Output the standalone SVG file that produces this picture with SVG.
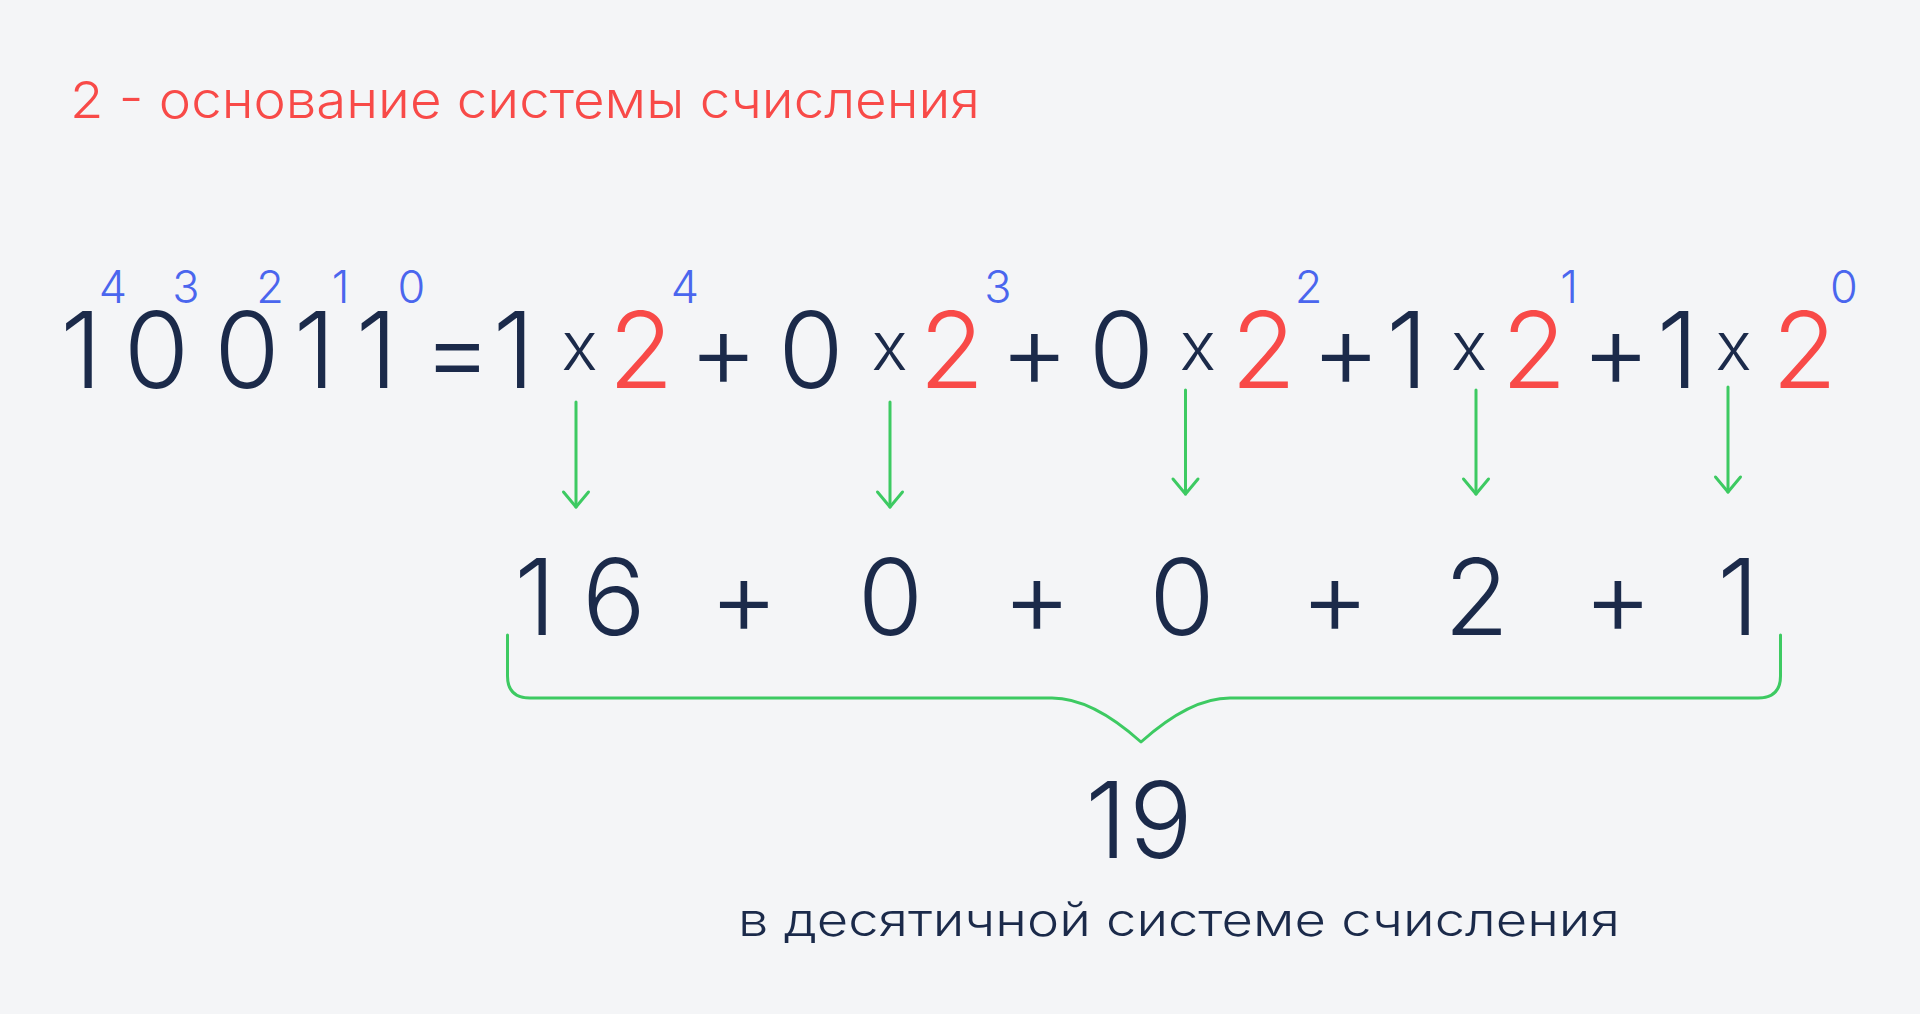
<svg xmlns="http://www.w3.org/2000/svg" width="1920" height="1014" viewBox="0 0 1920 1014">
<defs>
<style>
text{font-family:Inter,"Liberation Sans","DejaVu Sans",sans-serif;font-weight:300}
.n{fill:#1b2a4a}
.r{fill:#f84a48}
.b{fill:#4a66ee}
.big{font-size:106px;text-anchor:middle}
.op{font-size:106px;text-anchor:middle}
.x{font-size:68px;text-anchor:middle}
.sup{font-size:45px;text-anchor:middle}
.g{fill:none;stroke:#3dca62;stroke-width:3;stroke-linecap:round;stroke-linejoin:round}
</style>
<marker id="ah" markerUnits="userSpaceOnUse" markerWidth="40" markerHeight="40" refX="0" refY="0" viewBox="-20 -20 40 40" orient="auto" overflow="visible">
<path d="M-15,-12.5 L0,0 L-15,12.5" fill="none" stroke="#3dca62" stroke-width="3" stroke-linecap="round" stroke-linejoin="round"/>
</marker>
</defs>
<rect width="1920" height="1014" fill="#f4f5f7"/>

<g id="title">
<text class="r" x="70" y="118" font-size="51" textLength="910" lengthAdjust="spacingAndGlyphs">2 - основание системы счисления</text>
</g>

<g id="binary">
<text class="n big" y="388"><tspan x="81">1</tspan><tspan x="156.5">0</tspan><tspan x="247">0</tspan><tspan x="314.5">1</tspan><tspan x="376.5">1</tspan></text>
<text class="b sup" y="303"><tspan x="113">4</tspan><tspan x="186">3</tspan><tspan x="270">2</tspan><tspan x="340.5">1</tspan><tspan x="411.5">0</tspan></text>
<text class="n op" x="457.5" y="388">=</text>
</g>

<g id="term4">
<text class="n big" x="513.5" y="388">1</text>
<text class="n x" x="579.5" y="370">x</text>
<text class="r big" x="641" y="388">2</text>
<text class="b sup" x="685" y="303">4</text>
</g>
<text class="n op" x="723.5" y="388">+</text>
<g id="term3">
<text class="n big" x="811" y="388">0</text>
<text class="n x" x="889.5" y="370">x</text>
<text class="r big" x="951.75" y="388">2</text>
<text class="b sup" x="998" y="303">3</text>
</g>
<text class="n op" x="1034.5" y="388">+</text>
<g id="term2">
<text class="n big" x="1121.5" y="388">0</text>
<text class="n x" x="1197.75" y="370">x</text>
<text class="r big" x="1263.5" y="388">2</text>
<text class="b sup" x="1308.5" y="303">2</text>
</g>
<text class="n op" x="1346" y="388">+</text>
<g id="term1">
<text class="n big" x="1407" y="388">1</text>
<text class="n x" x="1469" y="370">x</text>
<text class="r big" x="1534" y="388">2</text>
<text class="b sup" x="1569" y="303">1</text>
</g>
<text class="n op" x="1616" y="388">+</text>
<g id="term0">
<text class="n big" x="1677.5" y="388">1</text>
<text class="n x" x="1733.5" y="370">x</text>
<text class="r big" x="1804.5" y="388">2</text>
<text class="b sup" x="1844" y="303">0</text>
</g>

<g id="sum">
<text class="n big" y="635"><tspan x="535">1</tspan><tspan x="614">6</tspan></text>
<text class="n op" x="744" y="635">+</text>
<text class="n big" x="890.5" y="635">0</text>
<text class="n op" x="1037" y="635">+</text>
<text class="n big" x="1182" y="635">0</text>
<text class="n op" x="1335" y="635">+</text>
<text class="n big" x="1476.5" y="635">2</text>
<text class="n op" x="1618" y="635">+</text>
<text class="n big" x="1738" y="635">1</text>
</g>

<g id="connectors">
<path class="g" d="M576,402 V507" marker-end="url(#ah)"/>
<path class="g" d="M890,402 V507" marker-end="url(#ah)"/>
<path class="g" d="M1185.5,390 V494" marker-end="url(#ah)"/>
<path class="g" d="M1476,390 V494" marker-end="url(#ah)"/>
<path class="g" d="M1728,387 V492" marker-end="url(#ah)"/>
<path class="g" d="M507.5,635 V676 Q507.5,698 530,698 H1052 C1081,698 1112,716 1141,742 C1170,716 1201,698 1230,698 H1758 Q1780.5,698 1780.5,676 V635"/>
</g>

<g id="result">
<text class="n big" y="858"><tspan x="1106">1</tspan><tspan x="1161">9</tspan></text>
<text class="n" x="738" y="936" font-size="45" textLength="882" lengthAdjust="spacingAndGlyphs">в десятичной системе счисления</text>
</g>
</svg>
